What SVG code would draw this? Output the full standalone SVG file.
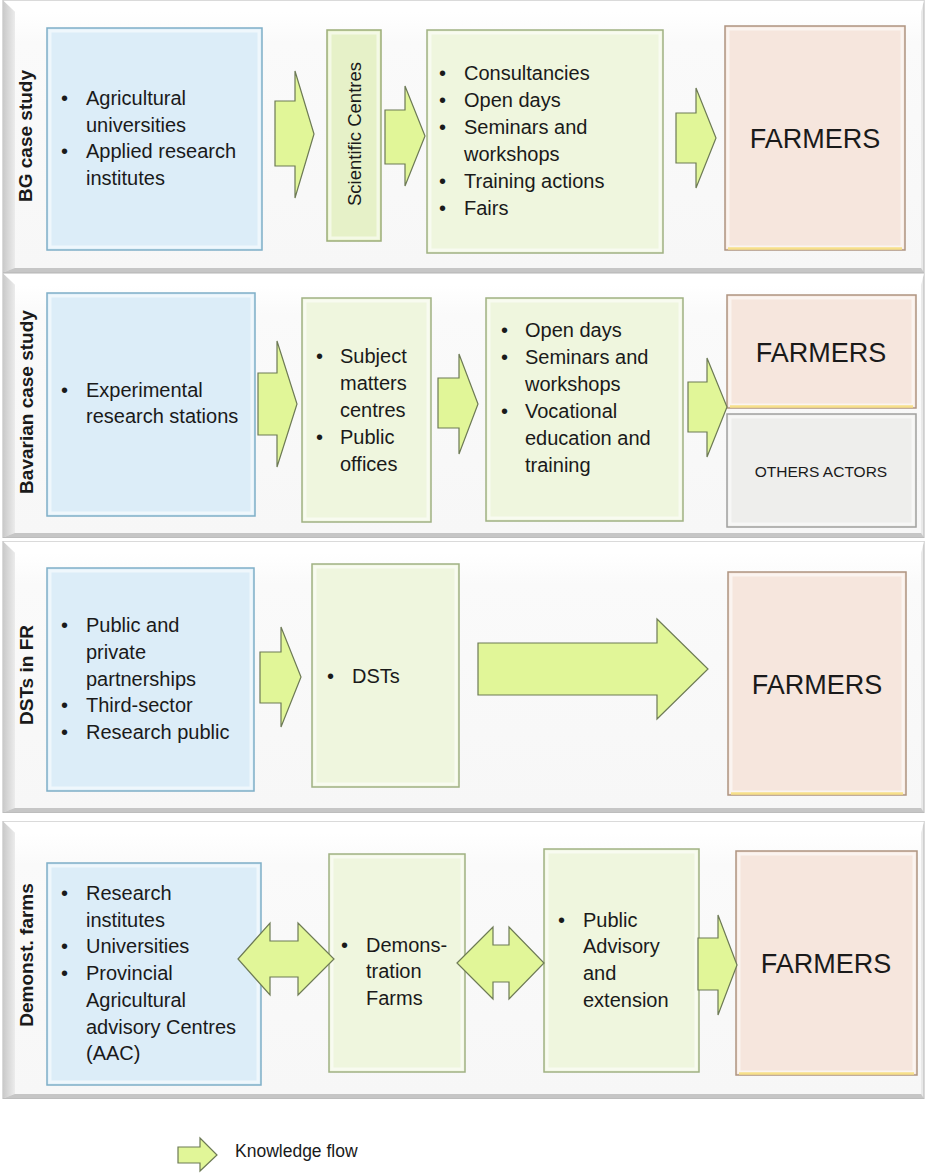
<svg xmlns="http://www.w3.org/2000/svg" width="927" height="1173" viewBox="0 0 927 1173">
<defs>
  <linearGradient id="bevL" x1="0" y1="0" x2="1" y2="0">
    <stop offset="0" stop-color="#c9c9c9"/>
    <stop offset="1" stop-color="#ececec"/>
  </linearGradient>
  <linearGradient id="panelBg" x1="0" y1="0" x2="0" y2="1">
    <stop offset="0" stop-color="#ffffff"/>
    <stop offset="0.12" stop-color="#fafafa"/>
    <stop offset="1" stop-color="#f7f7f7"/>
  </linearGradient>
  <style>
    .pOuter{fill:#e9e9e9;stroke:#b5b5b5;stroke-width:1}
    .pLeft{fill:url(#bevL)}
    .pTop{fill:#ffffff}
    .pBot{fill:#c6c6c6}
    .pIn{fill:url(#panelBg)}
    .blue{fill:#dcedf8;stroke:#7fafc7;stroke-width:1.5}
    .green{fill:#eff6de;stroke:#a0b183;stroke-width:1.5}
    .sci{fill:#e6f1c8;stroke:#9cad78;stroke-width:1.5}
    .farm{fill:#f6e6dd;stroke:#ae9480;stroke-width:1.5}
    .oth{fill:#eeeeec;stroke:#a0a09e;stroke-width:1.5}
    .hl{fill:none;stroke:#ffffff;stroke-opacity:0.55;stroke-width:3}
    .farmBot{stroke:#f7e08a;stroke-width:2.5}
    .arr{fill:#e1f698;stroke:#6d7a55;stroke-width:1.2;stroke-linejoin:miter}
    text{font-family:"Liberation Sans",Arial,sans-serif;fill:#1a1a1a}
    .t{font-size:20px}
    .big{font-size:27px;text-anchor:middle}
    .lab{font-size:19px;font-weight:bold;text-anchor:middle}
    .leg{font-size:17.5px}
  </style>
</defs>

<g id="panels">
  <g id="panel-bg">
    <rect class="pOuter" x="3" y="0.5" width="921" height="272"/>
    <polygon class="pTop" points="3,0.5 924,0.5 921,12 15,12"/>
    <polygon class="pLeft" points="3,0.5 15,12 15,268 3,272.5"/>
    <polygon class="pBot" points="3,272.5 15,268 921,268 924,272.5"/>
    <rect class="pIn" x="15" y="12" width="906" height="256"/>
    <text class="lab" transform="translate(32,136) rotate(-90)">BG case study</text>
  </g>
  <g id="panel-bav">
    <rect class="pOuter" x="3" y="273.5" width="921" height="264"/>
    <polygon class="pTop" points="3,273.5 924,273.5 921,285 15,285"/>
    <polygon class="pLeft" points="3,273.5 15,285 15,533 3,537.5"/>
    <polygon class="pBot" points="3,537.5 15,533 921,533 924,537.5"/>
    <rect class="pIn" x="15" y="285" width="906" height="248"/>
    <text class="lab" transform="translate(33,402) rotate(-90)">Bavarian case study</text>
  </g>
  <g id="panel-dst">
    <rect class="pOuter" x="3" y="541.5" width="921" height="271"/>
    <polygon class="pTop" points="3,541.5 924,541.5 921,553 15,553"/>
    <polygon class="pLeft" points="3,541.5 15,553 15,808 3,812.5"/>
    <polygon class="pBot" points="3,812.5 15,808 921,808 924,812.5"/>
    <rect class="pIn" x="15" y="553" width="906" height="255"/>
    <text class="lab" transform="translate(33,675) rotate(-90)">DSTs in FR</text>
  </g>
  <g id="panel-demo">
    <rect class="pOuter" x="3" y="821.5" width="921" height="277"/>
    <polygon class="pTop" points="3,821.5 924,821.5 921,833 15,833"/>
    <polygon class="pLeft" points="3,821.5 15,833 15,1094 3,1098.5"/>
    <polygon class="pBot" points="3,1098.5 15,1094 921,1094 924,1098.5"/>
    <rect class="pIn" x="15" y="833" width="906" height="261"/>
    <text class="lab" transform="translate(33,955) rotate(-90)">Demonst. farms</text>
  </g>
</g>

<!-- Row 1 -->
<g id="bg-research">
  <rect class="blue" x="47" y="28" width="215" height="222"/>
  <rect class="hl" x="50" y="31" width="209" height="216"/>
  <text class="t" x="61" y="105">•</text><text class="t" x="86" y="105">Agricultural</text>
  <text class="t" x="86" y="132">universities</text>
  <text class="t" x="61" y="158">•</text><text class="t" x="86" y="158">Applied research</text>
  <text class="t" x="86" y="185">institutes</text>
</g>
<g id="bg-scientific">
  <rect class="sci" x="327" y="30" width="54" height="211"/>
  <rect class="hl" x="330" y="33" width="48" height="205"/>
  <text class="t" style="font-size:18.5px;text-anchor:middle" transform="translate(361,134) rotate(-90)">Scientific Centres</text>
</g>
<g id="bg-activities">
  <rect class="green" x="427" y="30" width="236" height="223"/>
  <rect class="hl" x="430" y="33" width="230" height="217"/>
  <text class="t" x="439" y="80">•</text><text class="t" x="464" y="80">Consultancies</text>
  <text class="t" x="439" y="107">•</text><text class="t" x="464" y="107">Open days</text>
  <text class="t" x="439" y="134">•</text><text class="t" x="464" y="134">Seminars and</text>
  <text class="t" x="464" y="161">workshops</text>
  <text class="t" x="439" y="188">•</text><text class="t" x="464" y="188">Training actions</text>
  <text class="t" x="439" y="215">•</text><text class="t" x="464" y="215">Fairs</text>
</g>
<g id="bg-farmers">
  <rect class="farm" x="725" y="26" width="180" height="224"/>
  <rect class="hl" x="728" y="29" width="174" height="218"/>
  <line class="farmBot" x1="728" y1="248.5" x2="902" y2="248.5"/>
  <text class="big" x="815" y="148">FARMERS</text>
</g>

<!-- Row 2 -->
<g id="bav-research">
  <rect class="blue" x="47" y="293" width="208" height="223"/>
  <rect class="hl" x="50" y="296" width="202" height="217"/>
  <text class="t" x="61" y="397">•</text><text class="t" x="86" y="397">Experimental</text>
  <text class="t" x="86" y="423">research stations</text>
</g>
<g id="bav-centres">
  <rect class="green" x="302" y="298" width="129" height="224"/>
  <rect class="hl" x="305" y="301" width="123" height="218"/>
  <text class="t" x="316" y="363">•</text><text class="t" x="340" y="363">Subject</text>
  <text class="t" x="340" y="390">matters</text>
  <text class="t" x="340" y="417">centres</text>
  <text class="t" x="316" y="444">•</text><text class="t" x="340" y="444">Public</text>
  <text class="t" x="340" y="471">offices</text>
</g>
<g id="bav-activities">
  <rect class="green" x="486" y="298" width="197" height="223"/>
  <rect class="hl" x="489" y="301" width="191" height="217"/>
  <text class="t" x="501" y="337">•</text><text class="t" x="525" y="337">Open days</text>
  <text class="t" x="501" y="364">•</text><text class="t" x="525" y="364">Seminars and</text>
  <text class="t" x="525" y="391">workshops</text>
  <text class="t" x="501" y="418">•</text><text class="t" x="525" y="418">Vocational</text>
  <text class="t" x="525" y="445">education and</text>
  <text class="t" x="525" y="472">training</text>
</g>
<g id="bav-farmers">
  <rect class="farm" x="727" y="295" width="189" height="113"/>
  <rect class="hl" x="730" y="298" width="183" height="107"/>
  <line class="farmBot" x1="730" y1="406.5" x2="913" y2="406.5"/>
  <text class="big" x="821" y="362">FARMERS</text>
</g>
<g id="bav-others">
  <rect class="oth" x="727" y="414" width="189" height="113"/>
  <rect class="hl" x="730" y="417" width="183" height="107"/>
  <text x="821" y="477" style="font-size:15.5px;text-anchor:middle">OTHERS ACTORS</text>
</g>

<!-- Row 3 -->
<g id="dst-sources">
  <rect class="blue" x="47" y="568" width="207" height="223"/>
  <rect class="hl" x="50" y="571" width="201" height="217"/>
  <text class="t" x="61" y="632">•</text><text class="t" x="86" y="632">Public and</text>
  <text class="t" x="86" y="659">private</text>
  <text class="t" x="86" y="686">partnerships</text>
  <text class="t" x="61" y="712">•</text><text class="t" x="86" y="712">Third-sector</text>
  <text class="t" x="61" y="739">•</text><text class="t" x="86" y="739">Research public</text>
</g>
<g id="dst-dsts">
  <rect class="green" x="312" y="564" width="147" height="223"/>
  <rect class="hl" x="315" y="567" width="141" height="217"/>
  <text class="t" x="327" y="683">•</text><text class="t" x="352" y="683">DSTs</text>
</g>
<g id="dst-farmers">
  <rect class="farm" x="728" y="572" width="178" height="223"/>
  <rect class="hl" x="731" y="575" width="172" height="217"/>
  <line class="farmBot" x1="731" y1="793.5" x2="903" y2="793.5"/>
  <text class="big" x="817" y="694">FARMERS</text>
</g>

<!-- Row 4 -->
<g id="demo-sources">
  <rect class="blue" x="47" y="863" width="214" height="222"/>
  <rect class="hl" x="50" y="866" width="208" height="216"/>
  <text class="t" x="61" y="900">•</text><text class="t" x="86" y="900">Research</text>
  <text class="t" x="86" y="927">institutes</text>
  <text class="t" x="61" y="953">•</text><text class="t" x="86" y="953">Universities</text>
  <text class="t" x="61" y="980">•</text><text class="t" x="86" y="980">Provincial</text>
  <text class="t" x="86" y="1007">Agricultural</text>
  <text class="t" x="86" y="1034">advisory Centres</text>
  <text class="t" x="86" y="1060">(AAC)</text>
</g>
<g id="demo-farms">
  <rect class="green" x="329" y="854" width="136" height="218"/>
  <rect class="hl" x="332" y="857" width="130" height="212"/>
  <text class="t" x="341" y="952">•</text><text class="t" x="366" y="952">Demons-</text>
  <text class="t" x="366" y="978">tration</text>
  <text class="t" x="366" y="1005">Farms</text>
</g>
<g id="demo-advisory">
  <rect class="green" x="544" y="849" width="155" height="223"/>
  <rect class="hl" x="547" y="852" width="149" height="217"/>
  <text class="t" x="558" y="927">•</text><text class="t" x="583" y="927">Public</text>
  <text class="t" x="583" y="953">Advisory</text>
  <text class="t" x="583" y="980">and</text>
  <text class="t" x="583" y="1007">extension</text>
</g>
<g id="demo-farmers">
  <rect class="farm" x="736" y="851" width="181" height="224"/>
  <rect class="hl" x="739" y="854" width="175" height="218"/>
  <line class="farmBot" x1="739" y1="1073.5" x2="914" y2="1073.5"/>
  <text class="big" x="826" y="973">FARMERS</text>
</g>

<!-- Connectors -->
<g id="connectors">
  <polygon class="arr" points="275,101 295,101 295,71 314,134 295,198 295,166 275,166"/>
  <polygon class="arr" points="385,110 405,110 405,86 425,136 405,186 405,164 385,164"/>
  <polygon class="arr" points="676,113 696,113 696,88 716,138 696,188 696,163 676,163"/>
  <polygon class="arr" points="258,373 277,373 277,341 297,404 277,467 277,435 258,435"/>
  <polygon class="arr" points="438,378 459,378 459,354 478,404 459,454 459,428 438,428"/>
  <polygon class="arr" points="688,382 707,382 707,358 727,407 707,457 707,432 688,432"/>
  <polygon class="arr" points="260,652 281,652 281,627 301,677 281,727 281,703 260,703"/>
  <polygon class="arr" points="478,643 657,643 657,619 708,669 657,719 657,695 478,695"/>
  <polygon class="arr" points="238,959 270,923 270,941 298,941 298,923 334,959 298,995 298,977 270,977 270,995"/>
  <polygon class="arr" points="457,963 493,927 493,945 509,945 509,927 544,963 509,999 509,982 493,982 493,999"/>
  <polygon class="arr" points="698,938 718,938 718,915 737,965 718,1015 718,990 698,990"/>
</g>

<g id="legend">
  <polygon class="arr" points="178,1147 200,1147 200,1138 217,1155 200,1171 200,1163 178,1163"/>
  <text class="leg" x="235" y="1157">Knowledge flow</text>
</g>
</svg>
